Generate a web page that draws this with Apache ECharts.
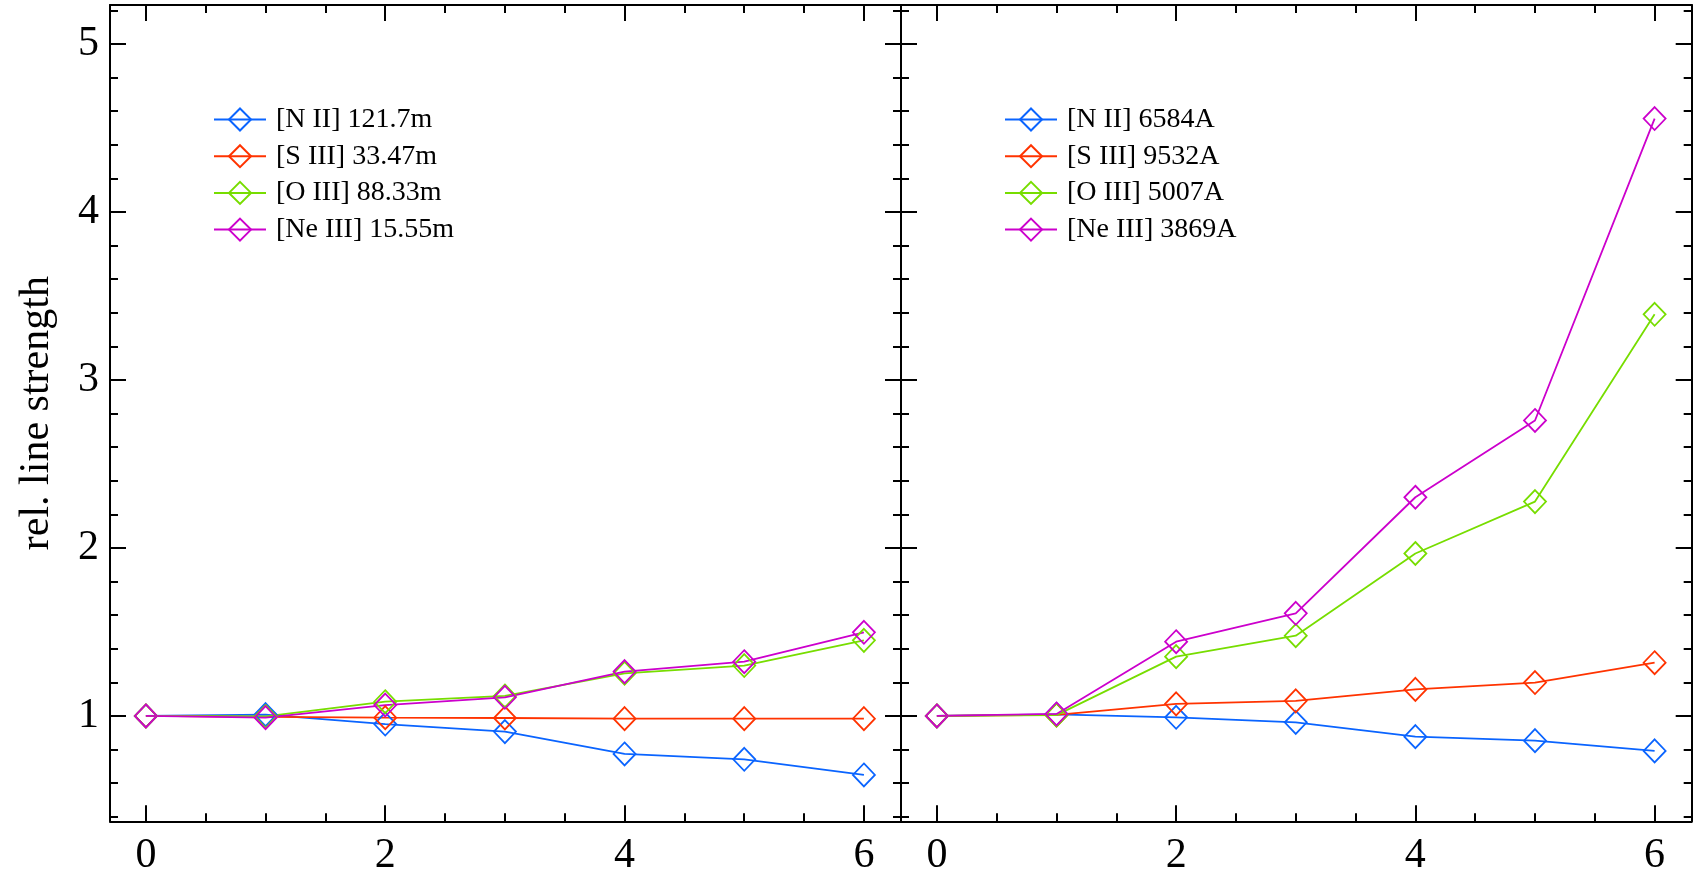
<!DOCTYPE html>
<html><head><meta charset="utf-8">
<script src="https://cdn.jsdelivr.net/npm/echarts@6/dist/echarts.min.js"></script>
<style>html,body{margin:0;padding:0;background:#fff}#c{width:1695px;height:882px}</style>
</head><body><div id="c"></div><script>
// ---- data ----
const xValues = [0, 1, 2, 3, 4, 5, 6];
const leftNames = ['[N II] 121.7m', '[S III] 33.47m', '[O III] 88.33m', '[Ne III] 15.55m'];
const rightNames = ['[N II] 6584A', '[S III] 9532A', '[O III] 5007A', '[Ne III] 3869A'];
const leftNII = [1.0, 1.008, 0.952, 0.907, 0.774, 0.742, 0.649];
const leftSIII = [1.0, 0.995, 0.99, 0.988, 0.984, 0.984, 0.984];
const leftOIII = [1.0, 0.997, 1.085, 1.119, 1.254, 1.300, 1.450];
const leftNeIII = [1.0, 0.99, 1.065, 1.111, 1.264, 1.323, 1.498];
const rightNII = [1.0, 1.01, 0.992, 0.962, 0.877, 0.853, 0.792];
const rightSIII = [1.0, 1.006, 1.072, 1.09, 1.158, 1.199, 1.317];
const rightOIII = [1.0, 1.005, 1.353, 1.478, 1.967, 2.276, 3.391];
const rightNeIII = [1.0, 1.012, 1.442, 1.611, 2.302, 2.759, 4.556];
const xMajorTicks = [0, 2, 4, 6];
const xMinorTicks = [0.5, 1, 1.5, 2.5, 3, 3.5, 4.5, 5, 5.5];
const yMajorTicks = [1, 2, 3, 4, 5];
const yMinorTicks = [0.4, 0.6, 0.8, 1.2, 1.4, 1.6, 1.8, 2.2, 2.4, 2.6, 2.8, 3.2, 3.4, 3.6, 3.8, 4.2, 4.4, 4.6, 4.8, 5.2];
const yAxisTitle = 'rel. line strength';

const colors = ['#0a64ff', '#ff3300', '#77dd00', '#cc00cc'];
const FONT = "'Liberation Serif', 'Times New Roman', serif";
const XMIN = -0.3, XMAX = 6.31, YMIN = 0.373, YMAX = 5.232;

function xAx(g, pos, ticks, len, label, line) {
  return {
    type: 'value', gridIndex: g, position: pos, min: XMIN, max: XMAX,
    axisLine: { show: line, onZero: false, lineStyle: { color: '#000', width: 2 } },
    axisTick: { show: true, inside: true, length: len, customValues: ticks, lineStyle: { color: '#000', width: 2 } },
    axisLabel: label ? { show: true, customValues: ticks, fontFamily: FONT, fontSize: 42, color: '#000', margin: 14 } : { show: false },
    splitLine: { show: false }
  };
}
function yAx(g, pos, ticks, len, label, line, name) {
  const a = {
    type: 'value', gridIndex: g, position: pos, min: YMIN, max: YMAX,
    axisLine: { show: line, onZero: false, lineStyle: { color: '#000', width: 2 } },
    axisTick: { show: true, inside: true, length: len, customValues: ticks, lineStyle: { color: '#000', width: 2 } },
    axisLabel: label ? { show: true, customValues: ticks, fontFamily: FONT, fontSize: 42, color: '#000', margin: 11 } : { show: false },
    splitLine: { show: false }
  };
  if (name) {
    a.name = name; a.nameLocation = 'middle'; a.nameGap = 52;
    a.nameTextStyle = { fontFamily: FONT, fontSize: 42, color: '#000' };
  }
  return a;
}

const xAxis = [], yAxis = [];
for (let g = 0; g < 2; g++) {
  xAxis.push(xAx(g, 'bottom', xMajorTicks, 16, true, true));
  xAxis.push(xAx(g, 'bottom', xMinorTicks, 8, false, false));
  xAxis.push(xAx(g, 'top', xMajorTicks, 16, false, true));
  xAxis.push(xAx(g, 'top', xMinorTicks, 8, false, false));
  yAxis.push(yAx(g, 'left', yMajorTicks, 16, g === 0, true, g === 0 ? yAxisTitle : null));
  yAxis.push(yAx(g, 'left', yMinorTicks, 8, false, false));
  yAxis.push(yAx(g, 'right', yMajorTicks, 16, false, true));
  yAxis.push(yAx(g, 'right', yMinorTicks, 8, false, false));
}

function mk(name, vals, ci, g) {
  return {
    type: 'line', name: name, xAxisIndex: g * 4, yAxisIndex: g * 4,
    data: xValues.map((x, i) => [x, vals[i]]),
    symbol: 'diamond', symbolSize: [22, 23],
    lineStyle: { color: colors[ci], width: 1.8 },
    itemStyle: { color: 'transparent', borderColor: colors[ci], borderWidth: 1.8 },
    emphasis: { disabled: true }, animation: false
  };
}
const series = [
  mk(leftNames[0], leftNII, 0, 0), mk(leftNames[1], leftSIII, 1, 0),
  mk(leftNames[2], leftOIII, 2, 0), mk(leftNames[3], leftNeIII, 3, 0),
  mk(rightNames[0], rightNII, 0, 1), mk(rightNames[1], rightSIII, 1, 1),
  mk(rightNames[2], rightOIII, 2, 1), mk(rightNames[3], rightNeIII, 3, 1)
];

function leg(names, left) {
  return {
    data: names, orient: 'vertical', left: left, top: 105.5, padding: 0,
    itemWidth: 52, itemHeight: 27.5, itemGap: 8.7, selectedMode: false,
    textStyle: { fontFamily: FONT, fontSize: 28, lineHeight: 28, color: '#000', padding: [0, 0, 0, 5] }
  };
}

const chart = echarts.init(document.getElementById('c'), null, { renderer: 'canvas' });
chart.setOption({
  animation: false,
  backgroundColor: '#fff',
  grid: [
    { left: 110, top: 5, width: 791, height: 816.3 },
    { left: 901, top: 5, width: 790.7, height: 816.3 }
  ],
  legend: [leg(leftNames, 213), leg(rightNames, 1004)],
  xAxis: xAxis, yAxis: yAxis, series: series
});
</script></body></html>
